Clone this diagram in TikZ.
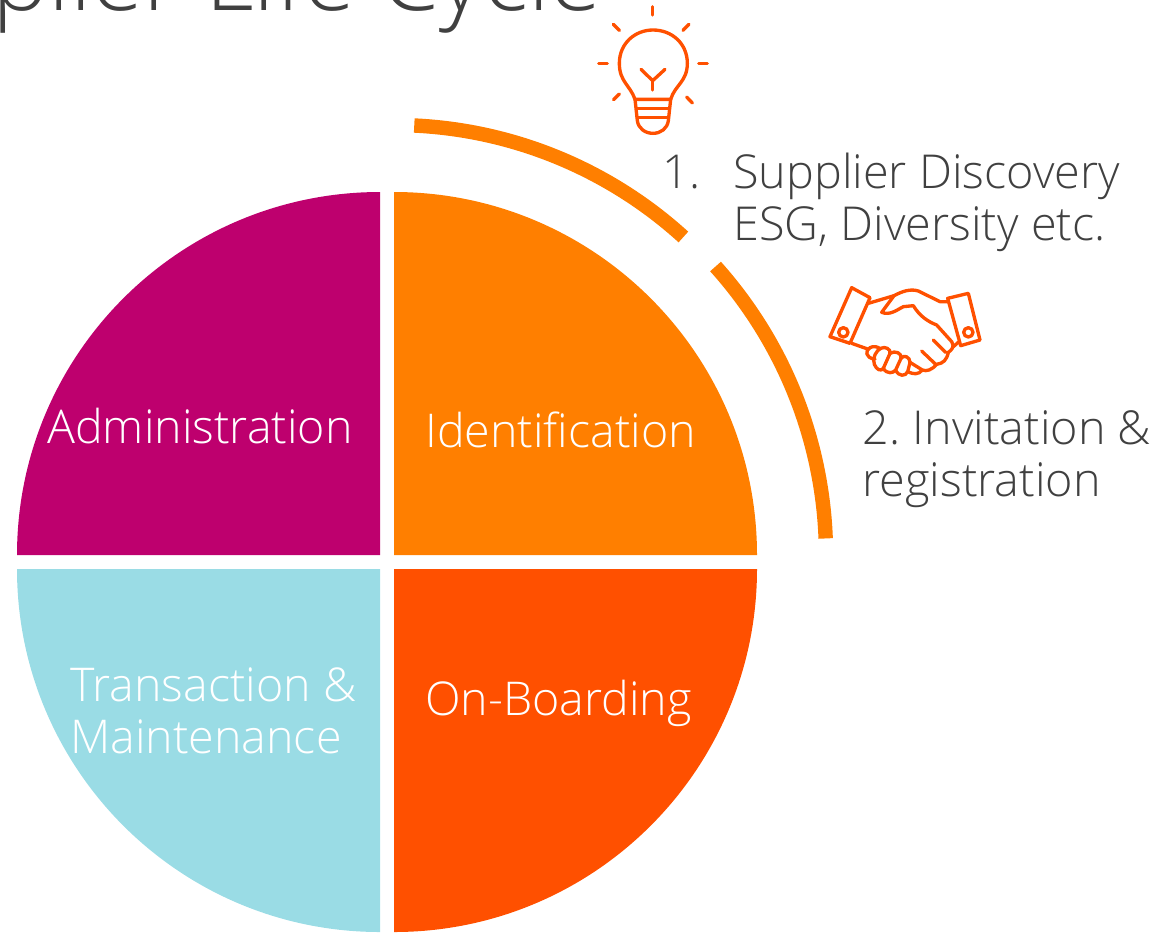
\documentclass[tikz,border=0pt]{standalone}
\usepackage{fontspec}
\usepackage{xcolor}
\setmainfont{Open Sans Light}[Ligatures=NoCommon]
\definecolor{adminpurple}{HTML}{BE006E}
\definecolor{identorange}{HTML}{FF7F00}
\definecolor{transblue}{HTML}{9ADCE5}
\definecolor{onboardred}{HTML}{FF5000}
\definecolor{textgrey}{HTML}{404040}
\def\secrad{363}

\begin{document}
\begin{tikzpicture}[x=0.02cm,y=-0.02cm]
    \tikzstyle{sector text}=[anchor=base west,inner sep=0pt,text=white,font=\fontsize{26.5}{26.5}\selectfont]
    \tikzstyle{side text}=[anchor=base west,inner sep=0pt,text=textgrey,font=\fontsize{26.6}{26.6}\selectfont]
    \tikzstyle{icon line}=[draw=onboardred,line width=1.9pt,line cap=round,line join=round]
    \tikzstyle{ring}=[draw=identorange,line width=8.2pt]

    \useasboundingbox (0,0) rectangle (1155,934);
    \clip (0,0) rectangle (1155,934);

    % Draw the title
    \node[anchor=base west,inner sep=0pt,text=textgrey,font=\fontsize{54}{54}\selectfont] (title) at (-8,10) {plier Life Cycle};

    % Draw the four quarters
    \fill[adminpurple] (380,555) -- (17,555) arc[start angle=180,end angle=90,x radius=\secrad,y radius=-\secrad] -- cycle;
    \fill[identorange] (394,555) -- (394,192) arc[start angle=90,end angle=0,x radius=\secrad,y radius=-\secrad] -- cycle;
    \fill[transblue] (380,569) -- (17,569) arc[start angle=180,end angle=270,x radius=\secrad,y radius=-\secrad] -- cycle;
    \fill[onboardred] (394,569) -- (757,569) arc[start angle=0,end angle=-90,x radius=\secrad,y radius=-\secrad] -- cycle;

    % Draw the two arcs
    \draw[ring] (394,555) ++(87.3:430 and -430) arc[start angle=87.3,end angle=47.7,x radius=430,y radius=-430];
    \draw[ring] (394,555) ++(41.9:432 and -432) arc[start angle=41.9,end angle=2.2,x radius=432,y radius=-432];

    % Draw the quarter labels
    \node[sector text] (admin) at (47,443) {Administration};
    \node[sector text] (ident) at (425,447) {Identification};
    \node[sector text] (trans) at (70,701) {Transaction \&};
    \node[sector text] (maint) at (70,753) {Maintenance};
    \node[sector text] (board) at (425,715) {On-Boarding};

    % Draw the step labels
    \node[side text] (num-1) at (662,188) {1.};
    \node[side text] (step-1) at (733,188) {Supplier Discovery};
    \node[side text] (step-1b) at (733,240) {ESG, Diversity etc.};
    \node[side text] (step-2) at (862,444) {2.\hspace{-2pt} Invitation \&};
    \node[side text] (step-2b) at (862,496) {registration};

    % Draw the bulb
    \begin{scope}[shift={(580,0)},scale=1/3]
        \draw[icon line] (165,298) .. controls (150,255) and (118,245) .. (118,190)
            .. controls (118,130) and (165,90) .. (219,90)
            .. controls (275,90) and (322,130) .. (322,190)
            .. controls (322,245) and (285,255) .. (272,298) -- cycle;
        \draw[icon line] (165,298) -- (172,362) .. controls (175,385) and (195,400) .. (219,400)
            .. controls (243,400) and (262,385) .. (265,362) -- (272,298);
        \draw[icon line] (170,325) -- (268,325);
        \draw[icon line] (172,352) -- (265,352);
        \draw[icon line] (183,208) -- (218,242) -- (255,208);
        \draw[icon line] (218,242) -- (218,270);
        \foreach \xa/\ya/\xb/\yb in {218/20/218/45, 56/190/82/190, 356/190/382/190, 100/73/118/91, 327/73/309/91, 101/299/118/282, 320/291/337/309}
            \draw[icon line] (\xa,\ya) -- (\xb,\yb);
    \end{scope}

    % Draw the handshake
    \begin{scope}[shift={(815,275)},scale=1/3]
        \draw[icon line] (110,38) -- (165,68) -- (105,205) -- (45,185) -- cycle;
        \draw[icon line] (398,70) -- (460,55) -- (495,195) -- (437,212) -- cycle;
        \draw[icon line] (85,172) circle[radius=14];
        \draw[icon line] (460,172) circle[radius=14];
        \draw[icon line] (160,85) -- (237,62) .. controls (260,50) and (285,40) .. (310,48) -- (375,80) -- (400,80);
        \draw[icon line] (237,62) -- (200,112) .. controls (225,122) and (245,105) .. (265,95) -- (295,92)
            .. controls (315,125) and (340,140) .. (365,150) -- (410,200) .. controls (420,215) and (410,225) .. (400,232)
            .. controls (395,255) and (385,265) .. (365,268) .. controls (350,285) and (335,290) .. (322,285) -- (285,262);
        \draw[icon line] (415,215) -- (432,200);
        \draw[icon line] (355,195) -- (392,232);
        \draw[icon line] (320,228) -- (362,268);
        \draw[icon line] (110,205) -- (158,222);
        \draw[icon line] (180,252) .. controls (150,250) and (150,225) .. (165,218) .. controls (175,212) and (190,215) .. (195,222);
        \draw[icon line] (178,268) .. controls (170,250) and (185,225) .. (197,220) .. controls (210,213) and (228,222) .. (225,235) -- (205,280);
        \draw[icon line] (205,280) .. controls (215,298) and (235,295) .. (242,285) -- (258,250) .. controls (262,235) and (240,225) .. (225,235);
        \draw[icon line] (242,285) .. controls (250,305) and (272,305) .. (278,290) -- (285,262) .. controls (285,245) and (265,238) .. (258,250);
        \draw[icon line] (178,268) .. controls (185,285) and (198,290) .. (205,280);
        \draw[icon line] (278,290) .. controls (295,298) and (310,300) .. (322,285);
    \end{scope}
\end{tikzpicture}
\end{document}
